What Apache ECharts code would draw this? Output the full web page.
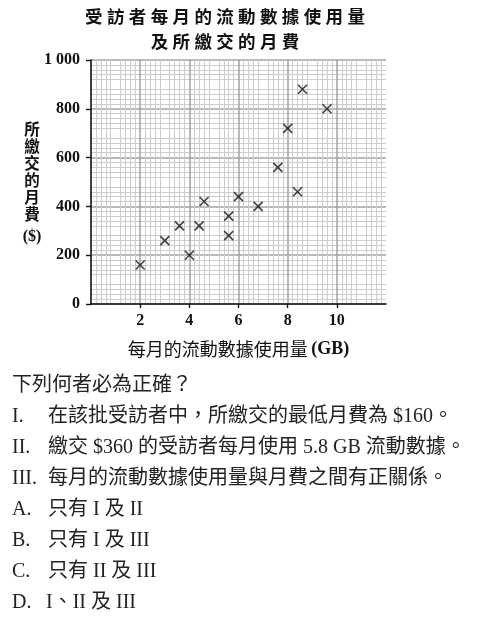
<!DOCTYPE html>
<html>
<head>
<meta charset="utf-8">
<script src="https://cdn.jsdelivr.net/npm/echarts@6/dist/echarts.min.js"></script>
<style>html,body{margin:0;padding:0;background:#fff}#c{width:481px;height:620px}</style>
</head>
<body>
<div id="c"></div>
<script>
var titleLines = ['受訪者每月的流動數據使用量', '及所繳交的月費'];
var xName = '每月的流動數據使用量';
var xUnit = '(GB)';
var yNameChars = ['所', '繳', '交', '的', '月', '費'];
var yUnit = '($)';
var xTickValues = [2, 4, 6, 8, 10];
var yTickValues = [0, 200, 400, 600, 800, 1000];
var dataUsage = [2, 3, 3.6, 4, 4.4, 4.6, 5.6, 5.6, 6, 6.8, 7.6, 8, 8.4, 8.6, 9.6];
var monthlyFee = [160, 260, 320, 200, 320, 420, 360, 280, 440, 400, 560, 720, 460, 880, 800];
var question = '下列何者必為正確？';
var statementLabels = ['I.', 'II.', 'III.'];
var statements = ['在該批受訪者中，所繳交的最低月費為 $160。', '繳交 $360 的受訪者每月使用 5.8 GB 流動數據。', '每月的流動數據使用量與月費之間有正關係。'];
var optionLabels = ['A.', 'B.', 'C.', 'D.'];
var options = ['只有 I 及 II', '只有 I 及 III', '只有 II 及 III', 'I、II 及 III'];

var points = dataUsage.map(function (x, i) { return [x, monthlyFee[i]]; });
var SERIF = '"Liberation Serif", "Noto Sans CJK TC", serif';
var CJK = '"Liberation Serif", "Noto Sans CJK TC", sans-serif';

var graphics = [];
titleLines.forEach(function (t, i) {
  graphics.push({
    type: 'text', x: 225, y: [8, 33][i],
    style: { text: t.split('').join('\u2005'), font: 'bold 17.5px "Noto Sans CJK TC"', fill: '#111', align: 'center' }
  });
});
graphics.push({
  type: 'text', x: 32, y: 121,
  style: { text: yNameChars.join('\n'), font: 'bold 15.5px "Noto Sans CJK TC"', lineHeight: 17, fill: '#111', align: 'center' }
});
graphics.push({
  type: 'text', x: 32, y: 229,
  style: { text: yUnit, font: 'bold 16px "Liberation Serif"', fill: '#111', align: 'center' }
});
var rowY = 376;
var rowStep = 31;
var rows = [{ l: '', t: question, x: 12 }];
statements.forEach(function (s, i) { rows.push({ l: statementLabels[i], t: s, x: 48 }); });
options.forEach(function (s, i) { rows.push({ l: optionLabels[i], t: s, x: i === 3 ? 46 : 48 }); });
rows.forEach(function (r, i) {
  var y = rowY + i * rowStep;
  if (r.l) {
    graphics.push({ type: 'text', left: 12, top: y, style: { text: r.l, font: '20px ' + SERIF, fill: '#222' } });
  }
  graphics.push({ type: 'text', left: r.x, top: y, style: { text: r.t, font: '20px ' + CJK, fill: '#222' } });
});

var chart = echarts.init(document.getElementById('c'), null, { renderer: 'canvas' });
chart.setOption({
  animation: false,
  backgroundColor: '#fff',
  grid: { left: 91, right: 95, top: 60, bottom: 316, containLabel: false },
  xAxis: {
    type: 'value', min: 0, max: 12, interval: 1,
    name: '{a|' + xName + '} {b|' + xUnit + '}',
    nameLocation: 'middle', nameGap: 36,
    nameTextStyle: { rich: { a: { fontFamily: 'Noto Sans CJK TC', fontSize: 18, color: '#111' }, b: { fontFamily: 'Liberation Serif', fontWeight: 'bold', fontSize: 18, color: '#111' } } },
    axisLine: { show: true, onZero: false, lineStyle: { color: '#111', width: 1.6 } },
    axisTick: { show: true, length: 4, customValues: xTickValues, lineStyle: { color: '#111', width: 1.4 } },
    axisLabel: { customValues: xTickValues, margin: 9, fontFamily: 'Liberation Serif', fontWeight: 'bold', fontSize: 16, color: '#111' },
    splitLine: { show: true, lineStyle: { color: '#a2a2a2', width: 1.5 } },
    minorTick: { show: false, splitNumber: 5 },
    minorSplitLine: { show: true, lineStyle: { color: '#cccccc', width: 1 } }
  },
  yAxis: {
    type: 'value', min: 0, max: 1000, interval: 100,
    axisLine: { show: true, onZero: false, lineStyle: { color: '#111', width: 1.6 } },
    axisTick: { show: true, length: 5, customValues: yTickValues, lineStyle: { color: '#111', width: 1.4 } },
    axisLabel: {
      customValues: yTickValues, margin: 11, fontFamily: 'Liberation Serif', fontWeight: 'bold', fontSize: 16, color: '#111',
      formatter: function (v) { return v >= 1000 ? String(v).replace(/(\d)(\d{3})$/, '$1 $2') : String(v); }
    },
    splitLine: { show: true, lineStyle: { color: '#a2a2a2', width: 1.5 } },
    minorTick: { show: false, splitNumber: 5 },
    minorSplitLine: { show: true, lineStyle: { color: '#cccccc', width: 1 } }
  },
  series: [{
    type: 'scatter',
    data: points,
    symbol: 'path://M0,0L10,10M10,0L0,10',
    symbolSize: 9,
    itemStyle: { color: 'none', borderColor: '#111', borderWidth: 1.6 },
    z: 5
  }],
  graphic: graphics
});
</script>
</body>
</html>
